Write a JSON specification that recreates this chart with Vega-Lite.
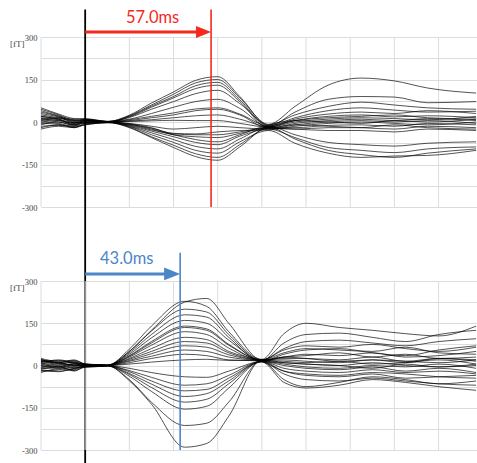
{
"$schema": "https://vega.github.io/schema/vega-lite/v6.json",
"width": 436, "height": 413,
"autosize": {"type": "none"},
"padding": {"left": 41, "top": 37, "right": 0, "bottom": 13},
"background": "white",
"config": {"view": {"stroke": null}},
"datasets": {
"grid": [{"t":-20},{"t":0},{"t":20},{"t":40},{"t":60},{"t":80},{"t":100},{"t":120},{"t":140},{"t":160}],
"top": [
{"c":1,"t":-20,"v":20},{"c":1,"t":-12,"v":10},{"c":1,"t":-5,"v":-10},{"c":1,"t":0,"v":5},{"c":1,"t":10,"v":2},{"c":1,"t":20,"v":24},{"c":1,"t":30,"v":67},{"c":1,"t":40,"v":106},{"c":1,"t":50,"v":147},{"c":1,"t":60,"v":160},{"c":1,"t":70,"v":90},{"c":1,"t":83,"v":-12},{"c":1,"t":95,"v":5},{"c":1,"t":110,"v":15},{"c":1,"t":125,"v":20},{"c":1,"t":140,"v":25},{"c":1,"t":155,"v":15},{"c":1,"t":177,"v":10},
{"c":2,"t":-20,"v":45},{"c":2,"t":-12,"v":25},{"c":2,"t":-5,"v":5},{"c":2,"t":0,"v":8},{"c":2,"t":10,"v":1},{"c":2,"t":20,"v":22},{"c":2,"t":30,"v":60},{"c":2,"t":40,"v":98},{"c":2,"t":50,"v":138},{"c":2,"t":60,"v":150},{"c":2,"t":70,"v":85},{"c":2,"t":83,"v":-8},{"c":2,"t":95,"v":55},{"c":2,"t":110,"v":130},{"c":2,"t":125,"v":155},{"c":2,"t":140,"v":145},{"c":2,"t":155,"v":120},{"c":2,"t":177,"v":102},
{"c":3,"t":-20,"v":35},{"c":3,"t":-12,"v":20},{"c":3,"t":-5,"v":0},{"c":3,"t":0,"v":10},{"c":3,"t":10,"v":0},{"c":3,"t":20,"v":20},{"c":3,"t":30,"v":56},{"c":3,"t":40,"v":90},{"c":3,"t":50,"v":128},{"c":3,"t":60,"v":140},{"c":3,"t":70,"v":78},{"c":3,"t":83,"v":-15},{"c":3,"t":95,"v":35},{"c":3,"t":110,"v":80},{"c":3,"t":125,"v":90},{"c":3,"t":140,"v":88},{"c":3,"t":155,"v":68},{"c":3,"t":177,"v":72},
{"c":4,"t":-20,"v":0},{"c":4,"t":-12,"v":-5},{"c":4,"t":-5,"v":-15},{"c":4,"t":0,"v":2},{"c":4,"t":10,"v":-1},{"c":4,"t":20,"v":18},{"c":4,"t":30,"v":52},{"c":4,"t":40,"v":85},{"c":4,"t":50,"v":118},{"c":4,"t":60,"v":130},{"c":4,"t":70,"v":72},{"c":4,"t":83,"v":-20},{"c":4,"t":95,"v":-10},{"c":4,"t":110,"v":-15},{"c":4,"t":125,"v":-20},{"c":4,"t":140,"v":-25},{"c":4,"t":155,"v":-15},{"c":4,"t":177,"v":-20},
{"c":5,"t":-20,"v":25},{"c":5,"t":-12,"v":15},{"c":5,"t":-5,"v":8},{"c":5,"t":0,"v":5},{"c":5,"t":10,"v":1},{"c":5,"t":20,"v":16},{"c":5,"t":30,"v":45},{"c":5,"t":40,"v":72},{"c":5,"t":50,"v":100},{"c":5,"t":60,"v":112},{"c":5,"t":70,"v":65},{"c":5,"t":83,"v":-10},{"c":5,"t":95,"v":25},{"c":5,"t":110,"v":55},{"c":5,"t":125,"v":70},{"c":5,"t":140,"v":60},{"c":5,"t":155,"v":50},{"c":5,"t":177,"v":45},
{"c":6,"t":-20,"v":-10},{"c":6,"t":-12,"v":0},{"c":6,"t":-5,"v":-12},{"c":6,"t":0,"v":-3},{"c":6,"t":10,"v":2},{"c":6,"t":20,"v":10},{"c":6,"t":30,"v":30},{"c":6,"t":40,"v":52},{"c":6,"t":50,"v":72},{"c":6,"t":60,"v":80},{"c":6,"t":70,"v":48},{"c":6,"t":83,"v":-18},{"c":6,"t":95,"v":10},{"c":6,"t":110,"v":28},{"c":6,"t":125,"v":35},{"c":6,"t":140,"v":30},{"c":6,"t":155,"v":40},{"c":6,"t":177,"v":30},
{"c":7,"t":-20,"v":15},{"c":7,"t":-12,"v":8},{"c":7,"t":-5,"v":-5},{"c":7,"t":0,"v":6},{"c":7,"t":10,"v":0},{"c":7,"t":20,"v":8},{"c":7,"t":30,"v":20},{"c":7,"t":40,"v":32},{"c":7,"t":50,"v":46},{"c":7,"t":60,"v":50},{"c":7,"t":70,"v":28},{"c":7,"t":83,"v":-14},{"c":7,"t":95,"v":15},{"c":7,"t":110,"v":40},{"c":7,"t":125,"v":50},{"c":7,"t":140,"v":42},{"c":7,"t":155,"v":35},{"c":7,"t":177,"v":38},
{"c":8,"t":-20,"v":5},{"c":8,"t":-12,"v":12},{"c":8,"t":-5,"v":2},{"c":8,"t":0,"v":-5},{"c":8,"t":10,"v":-2},{"c":8,"t":20,"v":5},{"c":8,"t":30,"v":15},{"c":8,"t":40,"v":25},{"c":8,"t":50,"v":40},{"c":8,"t":60,"v":45},{"c":8,"t":70,"v":25},{"c":8,"t":83,"v":-22},{"c":8,"t":95,"v":-5},{"c":8,"t":110,"v":5},{"c":8,"t":125,"v":10},{"c":8,"t":140,"v":5},{"c":8,"t":155,"v":12},{"c":8,"t":177,"v":5},
{"c":9,"t":-20,"v":-20},{"c":9,"t":-12,"v":-10},{"c":9,"t":-5,"v":-18},{"c":9,"t":0,"v":-8},{"c":9,"t":10,"v":0},{"c":9,"t":20,"v":3},{"c":9,"t":30,"v":8},{"c":9,"t":40,"v":15},{"c":9,"t":50,"v":22},{"c":9,"t":60,"v":25},{"c":9,"t":70,"v":10},{"c":9,"t":83,"v":-16},{"c":9,"t":95,"v":5},{"c":9,"t":110,"v":20},{"c":9,"t":125,"v":25},{"c":9,"t":140,"v":18},{"c":9,"t":155,"v":22},{"c":9,"t":177,"v":15},
{"c":10,"t":-20,"v":40},{"c":10,"t":-12,"v":22},{"c":10,"t":-5,"v":10},{"c":10,"t":0,"v":12},{"c":10,"t":10,"v":2},{"c":10,"t":20,"v":2},{"c":10,"t":30,"v":4},{"c":10,"t":40,"v":6},{"c":10,"t":50,"v":5},{"c":10,"t":60,"v":5},{"c":10,"t":70,"v":-5},{"c":10,"t":83,"v":-18},{"c":10,"t":95,"v":0},{"c":10,"t":110,"v":10},{"c":10,"t":125,"v":15},{"c":10,"t":140,"v":12},{"c":10,"t":155,"v":8},{"c":10,"t":177,"v":20},
{"c":11,"t":-20,"v":10},{"c":11,"t":-12,"v":5},{"c":11,"t":-5,"v":-8},{"c":11,"t":0,"v":0},{"c":11,"t":10,"v":0},{"c":11,"t":20,"v":-5},{"c":11,"t":30,"v":-15},{"c":11,"t":40,"v":-25},{"c":11,"t":50,"v":-20},{"c":11,"t":60,"v":-15},{"c":11,"t":70,"v":-20},{"c":11,"t":83,"v":-25},{"c":11,"t":95,"v":-10},{"c":11,"t":110,"v":0},{"c":11,"t":125,"v":5},{"c":11,"t":140,"v":0},{"c":11,"t":155,"v":5},{"c":11,"t":177,"v":-5},
{"c":12,"t":-20,"v":-5},{"c":12,"t":-12,"v":-8},{"c":12,"t":-5,"v":-20},{"c":12,"t":0,"v":-5},{"c":12,"t":10,"v":-1},{"c":12,"t":20,"v":-8},{"c":12,"t":30,"v":-22},{"c":12,"t":40,"v":-40},{"c":12,"t":50,"v":-42},{"c":12,"t":60,"v":-35},{"c":12,"t":70,"v":-30},{"c":12,"t":83,"v":-28},{"c":12,"t":95,"v":-15},{"c":12,"t":110,"v":-5},{"c":12,"t":125,"v":0},{"c":12,"t":140,"v":-5},{"c":12,"t":155,"v":-10},{"c":12,"t":177,"v":0},
{"c":13,"t":-20,"v":30},{"c":13,"t":-12,"v":18},{"c":13,"t":-5,"v":5},{"c":13,"t":0,"v":8},{"c":13,"t":10,"v":1},{"c":13,"t":20,"v":-6},{"c":13,"t":30,"v":-20},{"c":13,"t":40,"v":-42},{"c":13,"t":50,"v":-45},{"c":13,"t":60,"v":-45},{"c":13,"t":70,"v":-35},{"c":13,"t":83,"v":-20},{"c":13,"t":95,"v":-20},{"c":13,"t":110,"v":-12},{"c":13,"t":125,"v":-10},{"c":13,"t":140,"v":-15},{"c":13,"t":155,"v":-5},{"c":13,"t":177,"v":-10},
{"c":14,"t":-20,"v":-15},{"c":14,"t":-12,"v":-12},{"c":14,"t":-5,"v":-15},{"c":14,"t":0,"v":-10},{"c":14,"t":10,"v":-2},{"c":14,"t":20,"v":-8},{"c":14,"t":30,"v":-25},{"c":14,"t":40,"v":-45},{"c":14,"t":50,"v":-52},{"c":14,"t":60,"v":-55},{"c":14,"t":70,"v":-40},{"c":14,"t":83,"v":-22},{"c":14,"t":95,"v":-25},{"c":14,"t":110,"v":-30},{"c":14,"t":125,"v":-30},{"c":14,"t":140,"v":-35},{"c":14,"t":155,"v":-25},{"c":14,"t":177,"v":-30},
{"c":15,"t":-20,"v":20},{"c":15,"t":-12,"v":10},{"c":15,"t":-5,"v":-2},{"c":15,"t":0,"v":3},{"c":15,"t":10,"v":0},{"c":15,"t":20,"v":-10},{"c":15,"t":30,"v":-28},{"c":15,"t":40,"v":-45},{"c":15,"t":50,"v":-62},{"c":15,"t":60,"v":-70},{"c":15,"t":70,"v":-45},{"c":15,"t":83,"v":-15},{"c":15,"t":95,"v":-45},{"c":15,"t":110,"v":-72},{"c":15,"t":125,"v":-80},{"c":15,"t":140,"v":-85},{"c":15,"t":155,"v":-75},{"c":15,"t":177,"v":-70},
{"c":16,"t":-20,"v":0},{"c":16,"t":-12,"v":5},{"c":16,"t":-5,"v":-5},{"c":16,"t":0,"v":0},{"c":16,"t":10,"v":1},{"c":16,"t":20,"v":-12},{"c":16,"t":30,"v":-32},{"c":16,"t":40,"v":-52},{"c":16,"t":50,"v":-72},{"c":16,"t":60,"v":-80},{"c":16,"t":70,"v":-50},{"c":16,"t":83,"v":-25},{"c":16,"t":95,"v":-55},{"c":16,"t":110,"v":-90},{"c":16,"t":125,"v":-100},{"c":16,"t":140,"v":-108},{"c":16,"t":155,"v":-95},{"c":16,"t":177,"v":-88},
{"c":17,"t":-20,"v":50},{"c":17,"t":-12,"v":28},{"c":17,"t":-5,"v":12},{"c":17,"t":0,"v":10},{"c":17,"t":10,"v":2},{"c":17,"t":20,"v":-14},{"c":17,"t":30,"v":-38},{"c":17,"t":40,"v":-62},{"c":17,"t":50,"v":-86},{"c":17,"t":60,"v":-95},{"c":17,"t":70,"v":-60},{"c":17,"t":83,"v":-18},{"c":17,"t":95,"v":-60},{"c":17,"t":110,"v":-100},{"c":17,"t":125,"v":-115},{"c":17,"t":140,"v":-125},{"c":17,"t":155,"v":-110},{"c":17,"t":177,"v":-95},
{"c":18,"t":-20,"v":-25},{"c":18,"t":-12,"v":-15},{"c":18,"t":-5,"v":-20},{"c":18,"t":0,"v":-10},{"c":18,"t":10,"v":-3},{"c":18,"t":20,"v":-16},{"c":18,"t":30,"v":-45},{"c":18,"t":40,"v":-72},{"c":18,"t":50,"v":-100},{"c":18,"t":60,"v":-110},{"c":18,"t":70,"v":-70},{"c":18,"t":83,"v":-30},{"c":18,"t":95,"v":-75},{"c":18,"t":110,"v":-110},{"c":18,"t":125,"v":-125},{"c":18,"t":140,"v":-120},{"c":18,"t":155,"v":-118},{"c":18,"t":177,"v":-100},
{"c":19,"t":-20,"v":8},{"c":19,"t":-12,"v":0},{"c":19,"t":-5,"v":-10},{"c":19,"t":0,"v":-2},{"c":19,"t":10,"v":0},{"c":19,"t":20,"v":-18},{"c":19,"t":30,"v":-52},{"c":19,"t":40,"v":-82},{"c":19,"t":50,"v":-112},{"c":19,"t":60,"v":-125},{"c":19,"t":70,"v":-80},{"c":19,"t":83,"v":-22},{"c":19,"t":95,"v":-25},{"c":19,"t":110,"v":-20},{"c":19,"t":125,"v":-20},{"c":19,"t":140,"v":-10},{"c":19,"t":155,"v":-20},{"c":19,"t":177,"v":-25},
{"c":20,"t":-20,"v":12},{"c":20,"t":-12,"v":15},{"c":20,"t":-5,"v":-3},{"c":20,"t":0,"v":6},{"c":20,"t":10,"v":1},{"c":20,"t":20,"v":-20},{"c":20,"t":30,"v":-55},{"c":20,"t":40,"v":-90},{"c":20,"t":50,"v":-122},{"c":20,"t":60,"v":-135},{"c":20,"t":70,"v":-88},{"c":20,"t":83,"v":-12},{"c":20,"t":95,"v":5},{"c":20,"t":110,"v":0},{"c":20,"t":125,"v":-5},{"c":20,"t":140,"v":5},{"c":20,"t":155,"v":0},{"c":20,"t":177,"v":10}
],
"bot": [
{"c":1,"t":-20,"v":15},{"c":1,"t":-12,"v":5},{"c":1,"t":-5,"v":12},{"c":1,"t":0,"v":3},{"c":1,"t":10,"v":1},{"c":1,"t":20,"v":50},{"c":1,"t":30,"v":125},{"c":1,"t":45,"v":225},{"c":1,"t":55,"v":238},{"c":1,"t":65,"v":150},{"c":1,"t":80,"v":20},{"c":1,"t":90,"v":30},{"c":1,"t":100,"v":25},{"c":1,"t":115,"v":15},{"c":1,"t":130,"v":20},{"c":1,"t":145,"v":10},{"c":1,"t":160,"v":25},{"c":1,"t":177,"v":20},
{"c":2,"t":-20,"v":-10},{"c":2,"t":-12,"v":-5},{"c":2,"t":-5,"v":8},{"c":2,"t":0,"v":-2},{"c":2,"t":10,"v":0},{"c":2,"t":20,"v":58},{"c":2,"t":30,"v":140},{"c":2,"t":45,"v":228},{"c":2,"t":55,"v":210},{"c":2,"t":65,"v":120},{"c":2,"t":80,"v":22},{"c":2,"t":90,"v":113},{"c":2,"t":100,"v":150},{"c":2,"t":115,"v":135},{"c":2,"t":130,"v":125},{"c":2,"t":145,"v":113},{"c":2,"t":160,"v":105},{"c":2,"t":177,"v":140},
{"c":3,"t":-20,"v":20},{"c":3,"t":-12,"v":12},{"c":3,"t":-5,"v":15},{"c":3,"t":0,"v":5},{"c":3,"t":10,"v":1},{"c":3,"t":20,"v":50},{"c":3,"t":30,"v":122},{"c":3,"t":45,"v":200},{"c":3,"t":55,"v":190},{"c":3,"t":65,"v":110},{"c":3,"t":80,"v":18},{"c":3,"t":90,"v":80},{"c":3,"t":100,"v":110},{"c":3,"t":115,"v":115},{"c":3,"t":130,"v":100},{"c":3,"t":145,"v":85},{"c":3,"t":160,"v":110},{"c":3,"t":177,"v":125},
{"c":4,"t":-20,"v":0},{"c":4,"t":-12,"v":-10},{"c":4,"t":-5,"v":5},{"c":4,"t":0,"v":-3},{"c":4,"t":10,"v":-1},{"c":4,"t":20,"v":45},{"c":4,"t":30,"v":110},{"c":4,"t":45,"v":180},{"c":4,"t":55,"v":172},{"c":4,"t":65,"v":100},{"c":4,"t":80,"v":15},{"c":4,"t":90,"v":40},{"c":4,"t":100,"v":55},{"c":4,"t":115,"v":60},{"c":4,"t":130,"v":45},{"c":4,"t":145,"v":35},{"c":4,"t":160,"v":55},{"c":4,"t":177,"v":70},
{"c":5,"t":-20,"v":25},{"c":5,"t":-12,"v":15},{"c":5,"t":-5,"v":18},{"c":5,"t":0,"v":6},{"c":5,"t":10,"v":2},{"c":5,"t":20,"v":40},{"c":5,"t":30,"v":98},{"c":5,"t":45,"v":160},{"c":5,"t":55,"v":150},{"c":5,"t":65,"v":90},{"c":5,"t":80,"v":20},{"c":5,"t":90,"v":60},{"c":5,"t":100,"v":85},{"c":5,"t":115,"v":90},{"c":5,"t":130,"v":80},{"c":5,"t":145,"v":70},{"c":5,"t":160,"v":85},{"c":5,"t":177,"v":95},
{"c":6,"t":-20,"v":-20},{"c":6,"t":-12,"v":-15},{"c":6,"t":-5,"v":-5},{"c":6,"t":0,"v":-5},{"c":6,"t":10,"v":-1},{"c":6,"t":20,"v":35},{"c":6,"t":30,"v":85},{"c":6,"t":45,"v":140},{"c":6,"t":55,"v":130},{"c":6,"t":65,"v":75},{"c":6,"t":80,"v":16},{"c":6,"t":90,"v":10},{"c":6,"t":100,"v":5},{"c":6,"t":115,"v":0},{"c":6,"t":130,"v":-10},{"c":6,"t":145,"v":5},{"c":6,"t":160,"v":-5},{"c":6,"t":177,"v":0},
{"c":7,"t":-20,"v":10},{"c":7,"t":-12,"v":20},{"c":7,"t":-5,"v":10},{"c":7,"t":0,"v":4},{"c":7,"t":10,"v":0},{"c":7,"t":20,"v":33},{"c":7,"t":30,"v":80},{"c":7,"t":45,"v":135},{"c":7,"t":55,"v":125},{"c":7,"t":65,"v":72},{"c":7,"t":80,"v":20},{"c":7,"t":90,"v":55},{"c":7,"t":100,"v":70},{"c":7,"t":115,"v":65},{"c":7,"t":130,"v":75},{"c":7,"t":145,"v":60},{"c":7,"t":160,"v":50},{"c":7,"t":177,"v":65},
{"c":8,"t":-20,"v":5},{"c":8,"t":-12,"v":-5},{"c":8,"t":-5,"v":-10},{"c":8,"t":0,"v":0},{"c":8,"t":10,"v":1},{"c":8,"t":20,"v":30},{"c":8,"t":30,"v":72},{"c":8,"t":45,"v":120},{"c":8,"t":55,"v":110},{"c":8,"t":65,"v":62},{"c":8,"t":80,"v":17},{"c":8,"t":90,"v":30},{"c":8,"t":100,"v":35},{"c":8,"t":115,"v":45},{"c":8,"t":130,"v":30},{"c":8,"t":145,"v":40},{"c":8,"t":160,"v":25},{"c":8,"t":177,"v":30},
{"c":9,"t":-20,"v":-15},{"c":9,"t":-12,"v":-20},{"c":9,"t":-5,"v":-12},{"c":9,"t":0,"v":-4},{"c":9,"t":10,"v":-1},{"c":9,"t":20,"v":25},{"c":9,"t":30,"v":60},{"c":9,"t":45,"v":100},{"c":9,"t":55,"v":92},{"c":9,"t":65,"v":50},{"c":9,"t":80,"v":15},{"c":9,"t":90,"v":-20},{"c":9,"t":100,"v":-35},{"c":9,"t":115,"v":-40},{"c":9,"t":130,"v":-30},{"c":9,"t":145,"v":-45},{"c":9,"t":160,"v":-40},{"c":9,"t":177,"v":-35},
{"c":10,"t":-20,"v":22},{"c":10,"t":-12,"v":10},{"c":10,"t":-5,"v":20},{"c":10,"t":0,"v":5},{"c":10,"t":10,"v":1},{"c":10,"t":20,"v":22},{"c":10,"t":30,"v":50},{"c":10,"t":45,"v":85},{"c":10,"t":55,"v":80},{"c":10,"t":65,"v":45},{"c":10,"t":80,"v":20},{"c":10,"t":90,"v":45},{"c":10,"t":100,"v":60},{"c":10,"t":115,"v":55},{"c":10,"t":130,"v":50},{"c":10,"t":145,"v":65},{"c":10,"t":160,"v":45},{"c":10,"t":177,"v":40},
{"c":11,"t":-20,"v":-5},{"c":11,"t":-12,"v":5},{"c":11,"t":-5,"v":-8},{"c":11,"t":0,"v":-2},{"c":11,"t":10,"v":0},{"c":11,"t":20,"v":18},{"c":11,"t":30,"v":42},{"c":11,"t":45,"v":70},{"c":11,"t":55,"v":65},{"c":11,"t":65,"v":38},{"c":11,"t":80,"v":18},{"c":11,"t":90,"v":15},{"c":11,"t":100,"v":10},{"c":11,"t":115,"v":15},{"c":11,"t":130,"v":5},{"c":11,"t":145,"v":10},{"c":11,"t":160,"v":20},{"c":11,"t":177,"v":5},
{"c":12,"t":-20,"v":18},{"c":12,"t":-12,"v":8},{"c":12,"t":-5,"v":2},{"c":12,"t":0,"v":2},{"c":12,"t":10,"v":0},{"c":12,"t":20,"v":15},{"c":12,"t":30,"v":33},{"c":12,"t":45,"v":55},{"c":12,"t":55,"v":50},{"c":12,"t":65,"v":30},{"c":12,"t":80,"v":19},{"c":12,"t":90,"v":25},{"c":12,"t":100,"v":25},{"c":12,"t":115,"v":20},{"c":12,"t":130,"v":30},{"c":12,"t":145,"v":15},{"c":12,"t":160,"v":25},{"c":12,"t":177,"v":15},
{"c":13,"t":-20,"v":-25},{"c":13,"t":-12,"v":-12},{"c":13,"t":-5,"v":-18},{"c":13,"t":0,"v":-6},{"c":13,"t":10,"v":-2},{"c":13,"t":20,"v":10},{"c":13,"t":30,"v":25},{"c":13,"t":45,"v":40},{"c":13,"t":55,"v":35},{"c":13,"t":65,"v":20},{"c":13,"t":80,"v":16},{"c":13,"t":90,"v":0},{"c":13,"t":100,"v":-10},{"c":13,"t":115,"v":-15},{"c":13,"t":130,"v":-5},{"c":13,"t":145,"v":-20},{"c":13,"t":160,"v":-10},{"c":13,"t":177,"v":-25},
{"c":14,"t":-20,"v":8},{"c":14,"t":-12,"v":0},{"c":14,"t":-5,"v":5},{"c":14,"t":0,"v":1},{"c":14,"t":10,"v":0},{"c":14,"t":20,"v":5},{"c":14,"t":30,"v":12},{"c":14,"t":45,"v":20},{"c":14,"t":55,"v":22},{"c":14,"t":65,"v":18},{"c":14,"t":80,"v":18},{"c":14,"t":90,"v":30},{"c":14,"t":100,"v":40},{"c":14,"t":115,"v":35},{"c":14,"t":130,"v":45},{"c":14,"t":145,"v":30},{"c":14,"t":160,"v":35},{"c":14,"t":177,"v":50},
{"c":15,"t":-20,"v":12},{"c":15,"t":-12,"v":18},{"c":15,"t":-5,"v":8},{"c":15,"t":0,"v":4},{"c":15,"t":10,"v":1},{"c":15,"t":20,"v":-10},{"c":15,"t":30,"v":-25},{"c":15,"t":45,"v":-40},{"c":15,"t":55,"v":-42},{"c":15,"t":65,"v":-20},{"c":15,"t":80,"v":14},{"c":15,"t":90,"v":-30},{"c":15,"t":100,"v":-50},{"c":15,"t":115,"v":-55},{"c":15,"t":130,"v":-45},{"c":15,"t":145,"v":-55},{"c":15,"t":160,"v":-65},{"c":15,"t":177,"v":-70},
{"c":16,"t":-20,"v":-12},{"c":16,"t":-12,"v":-8},{"c":16,"t":-5,"v":-15},{"c":16,"t":0,"v":-3},{"c":16,"t":10,"v":-1},{"c":16,"t":20,"v":-18},{"c":16,"t":30,"v":-42},{"c":16,"t":45,"v":-70},{"c":16,"t":55,"v":-65},{"c":16,"t":65,"v":-35},{"c":16,"t":80,"v":15},{"c":16,"t":90,"v":-10},{"c":16,"t":100,"v":-20},{"c":16,"t":115,"v":-25},{"c":16,"t":130,"v":-15},{"c":16,"t":145,"v":-25},{"c":16,"t":160,"v":-20},{"c":16,"t":177,"v":-30},
{"c":17,"t":-20,"v":0},{"c":17,"t":-12,"v":-5},{"c":17,"t":-5,"v":0},{"c":17,"t":0,"v":0},{"c":17,"t":10,"v":0},{"c":17,"t":20,"v":-22},{"c":17,"t":30,"v":-55},{"c":17,"t":45,"v":-90},{"c":17,"t":55,"v":-85},{"c":17,"t":65,"v":-45},{"c":17,"t":80,"v":12},{"c":17,"t":90,"v":-60},{"c":17,"t":100,"v":-80},{"c":17,"t":115,"v":-70},{"c":17,"t":130,"v":-50},{"c":17,"t":145,"v":-60},{"c":17,"t":160,"v":-75},{"c":17,"t":177,"v":-88},
{"c":18,"t":-20,"v":15},{"c":18,"t":-12,"v":8},{"c":18,"t":-5,"v":12},{"c":18,"t":0,"v":3},{"c":18,"t":10,"v":1},{"c":18,"t":20,"v":-28},{"c":18,"t":30,"v":-66},{"c":18,"t":45,"v":-110},{"c":18,"t":55,"v":-100},{"c":18,"t":65,"v":-55},{"c":18,"t":80,"v":16},{"c":18,"t":90,"v":5},{"c":18,"t":100,"v":-5},{"c":18,"t":115,"v":-10},{"c":18,"t":130,"v":0},{"c":18,"t":145,"v":-5},{"c":18,"t":160,"v":5},{"c":18,"t":177,"v":-10},
{"c":19,"t":-20,"v":-18},{"c":19,"t":-12,"v":-22},{"c":19,"t":-5,"v":-10},{"c":19,"t":0,"v":-5},{"c":19,"t":10,"v":-2},{"c":19,"t":20,"v":-32},{"c":19,"t":30,"v":-78},{"c":19,"t":45,"v":-130},{"c":19,"t":55,"v":-120},{"c":19,"t":65,"v":-65},{"c":19,"t":80,"v":14},{"c":19,"t":90,"v":-50},{"c":19,"t":100,"v":-75},{"c":19,"t":115,"v":-60},{"c":19,"t":130,"v":-40},{"c":19,"t":145,"v":-50},{"c":19,"t":160,"v":-65},{"c":19,"t":177,"v":-55},
{"c":20,"t":-20,"v":5},{"c":20,"t":-12,"v":12},{"c":20,"t":-5,"v":-3},{"c":20,"t":0,"v":2},{"c":20,"t":10,"v":0},{"c":20,"t":20,"v":-38},{"c":20,"t":30,"v":-92},{"c":20,"t":45,"v":-155},{"c":20,"t":55,"v":-145},{"c":20,"t":65,"v":-80},{"c":20,"t":80,"v":15},{"c":20,"t":90,"v":-20},{"c":20,"t":100,"v":-30},{"c":20,"t":115,"v":-35},{"c":20,"t":130,"v":-25},{"c":20,"t":145,"v":-30},{"c":20,"t":160,"v":-40},{"c":20,"t":177,"v":-45},
{"c":21,"t":-20,"v":-8},{"c":21,"t":-12,"v":-2},{"c":21,"t":-5,"v":-20},{"c":21,"t":0,"v":-4},{"c":21,"t":10,"v":-1},{"c":21,"t":20,"v":-50},{"c":21,"t":30,"v":-130},{"c":21,"t":45,"v":-213},{"c":21,"t":55,"v":-205},{"c":21,"t":65,"v":-130},{"c":21,"t":80,"v":18},{"c":21,"t":90,"v":20},{"c":21,"t":100,"v":15},{"c":21,"t":115,"v":10},{"c":21,"t":130,"v":20},{"c":21,"t":145,"v":15},{"c":21,"t":160,"v":10},{"c":21,"t":177,"v":20},
{"c":22,"t":-20,"v":20},{"c":22,"t":-12,"v":10},{"c":22,"t":-5,"v":0},{"c":22,"t":0,"v":2},{"c":22,"t":10,"v":0},{"c":22,"t":20,"v":-54},{"c":22,"t":30,"v":-137},{"c":22,"t":45,"v":-290},{"c":22,"t":55,"v":-277},{"c":22,"t":65,"v":-180},{"c":22,"t":80,"v":20},{"c":22,"t":90,"v":10},{"c":22,"t":100,"v":5},{"c":22,"t":115,"v":0},{"c":22,"t":130,"v":10},{"c":22,"t":145,"v":0},{"c":22,"t":160,"v":-5},{"c":22,"t":177,"v":5}
]
},
"layer": [
{
"layer": [
{"data": {"name": "grid"}, "mark": {"type": "rule", "color": "#d9dddd", "strokeWidth": 1},
 "encoding": {"x": {"field": "t", "type": "quantitative", "scale": {"domain": [-20, 177.4], "nice": false, "zero": false}, "axis": null},
  "y": {"datum": 300, "type": "quantitative", "scale": {"domain": [-1157.6, 300], "nice": false, "zero": false},
   "axis": {"orient": "left", "values": [-300, -225, -150, -75, 0, 75, 150, 225, 300], "labelExpr": "datum.value % 150 === 0 ? '' + datum.value : ''", "ticks": false, "domain": false, "grid": true, "gridColor": "#d9dddd", "gridWidth": 1, "labelFont": "Liberation Serif", "labelFontSize": 8.5, "labelColor": "#444444", "labelPadding": 4, "title": "[fT]", "titleAngle": 0, "titleAlign": "right", "titleBaseline": "alphabetic", "titleX": -17, "titleY": 9, "titleFont": "Liberation Serif", "titleFontSize": 9, "titleFontWeight": "normal", "titleColor": "#444444"}},
  "y2": {"datum": -300}}},
{"data": {"name": "top"}, "mark": {"type": "line", "interpolate": "monotone", "color": "#000000", "strokeWidth": 0.75, "opacity": 0.9},
 "encoding": {"x": {"field": "t", "type": "quantitative", "scale": {"domain": [-20, 177.4], "nice": false, "zero": false}, "axis": null},
  "y": {"field": "v", "type": "quantitative", "scale": {"domain": [-1157.6, 300], "nice": false, "zero": false},
   "axis": {"orient": "left", "values": [-300, -225, -150, -75, 0, 75, 150, 225, 300], "labelExpr": "datum.value % 150 === 0 ? '' + datum.value : ''", "ticks": false, "domain": false, "grid": true, "gridColor": "#d9dddd", "gridWidth": 1, "labelFont": "Liberation Serif", "labelFontSize": 8.5, "labelColor": "#444444", "labelPadding": 4, "title": "[fT]", "titleAngle": 0, "titleAlign": "right", "titleBaseline": "alphabetic", "titleX": -17, "titleY": 9, "titleFont": "Liberation Serif", "titleFontSize": 9, "titleFontWeight": "normal", "titleColor": "#444444"}},
  "detail": {"field": "c", "type": "nominal"}}},
{"data": {"values": [{}]}, "mark": {"type": "rule", "color": "#000000", "strokeWidth": 1.8},
 "encoding": {"x": {"datum": 0, "type": "quantitative", "scale": {"domain": [-20, 177.4], "nice": false, "zero": false}, "axis": null},
  "y": {"datum": 397, "type": "quantitative", "scale": {"domain": [-1157.6, 300], "nice": false, "zero": false},
   "axis": {"orient": "left", "values": [-300, -225, -150, -75, 0, 75, 150, 225, 300], "labelExpr": "datum.value % 150 === 0 ? '' + datum.value : ''", "ticks": false, "domain": false, "grid": true, "gridColor": "#d9dddd", "gridWidth": 1, "labelFont": "Liberation Serif", "labelFontSize": 8.5, "labelColor": "#444444", "labelPadding": 4, "title": "[fT]", "titleAngle": 0, "titleAlign": "right", "titleBaseline": "alphabetic", "titleX": -17, "titleY": 9, "titleFont": "Liberation Serif", "titleFontSize": 9, "titleFontWeight": "normal", "titleColor": "#444444"}},
  "y2": {"datum": -1215}}},
{"data": {"values": [{}]}, "mark": {"type": "rule", "color": "#f5281c", "strokeWidth": 1.6},
 "encoding": {"x": {"datum": 57, "type": "quantitative", "scale": {"domain": [-20, 177.4], "nice": false, "zero": false}, "axis": null},
  "y": {"datum": 397, "type": "quantitative", "scale": {"domain": [-1157.6, 300], "nice": false, "zero": false},
   "axis": {"orient": "left", "values": [-300, -225, -150, -75, 0, 75, 150, 225, 300], "labelExpr": "datum.value % 150 === 0 ? '' + datum.value : ''", "ticks": false, "domain": false, "grid": true, "gridColor": "#d9dddd", "gridWidth": 1, "labelFont": "Liberation Serif", "labelFontSize": 8.5, "labelColor": "#444444", "labelPadding": 4, "title": "[fT]", "titleAngle": 0, "titleAlign": "right", "titleBaseline": "alphabetic", "titleX": -17, "titleY": 9, "titleFont": "Liberation Serif", "titleFontSize": 9, "titleFontWeight": "normal", "titleColor": "#444444"}},
  "y2": {"datum": -300}}},
{"data": {"values": [{}]}, "mark": {"type": "rule", "color": "#f5281c", "strokeWidth": 3},
 "encoding": {"x": {"datum": 0, "type": "quantitative", "scale": {"domain": [-20, 177.4], "nice": false, "zero": false}, "axis": null},
  "x2": {"datum": 53},
  "y": {"datum": 317.6, "type": "quantitative", "scale": {"domain": [-1157.6, 300], "nice": false, "zero": false},
   "axis": {"orient": "left", "values": [-300, -225, -150, -75, 0, 75, 150, 225, 300], "labelExpr": "datum.value % 150 === 0 ? '' + datum.value : ''", "ticks": false, "domain": false, "grid": true, "gridColor": "#d9dddd", "gridWidth": 1, "labelFont": "Liberation Serif", "labelFontSize": 8.5, "labelColor": "#444444", "labelPadding": 4, "title": "[fT]", "titleAngle": 0, "titleAlign": "right", "titleBaseline": "alphabetic", "titleX": -17, "titleY": 9, "titleFont": "Liberation Serif", "titleFontSize": 9, "titleFontWeight": "normal", "titleColor": "#444444"}}}},
{"data": {"values": [{}]}, "mark": {"type": "point", "shape": "M-2,-0.8L0,0L-2,0.8Z", "filled": true, "color": "#f5281c", "opacity": 1, "size": 225},
 "encoding": {"x": {"datum": 57, "type": "quantitative", "scale": {"domain": [-20, 177.4], "nice": false, "zero": false}, "axis": null},
  "y": {"datum": 317.6, "type": "quantitative", "scale": {"domain": [-1157.6, 300], "nice": false, "zero": false},
   "axis": {"orient": "left", "values": [-300, -225, -150, -75, 0, 75, 150, 225, 300], "labelExpr": "datum.value % 150 === 0 ? '' + datum.value : ''", "ticks": false, "domain": false, "grid": true, "gridColor": "#d9dddd", "gridWidth": 1, "labelFont": "Liberation Serif", "labelFontSize": 8.5, "labelColor": "#444444", "labelPadding": 4, "title": "[fT]", "titleAngle": 0, "titleAlign": "right", "titleBaseline": "alphabetic", "titleX": -17, "titleY": 9, "titleFont": "Liberation Serif", "titleFontSize": 9, "titleFontWeight": "normal", "titleColor": "#444444"}}}},
{"data": {"values": [{}]}, "mark": {"type": "text", "text": "57.0ms", "color": "#f5281c", "font": "Lato", "fontSize": 16.5, "align": "center", "baseline": "middle"},
 "encoding": {"x": {"datum": 30.5, "type": "quantitative", "scale": {"domain": [-20, 177.4], "nice": false, "zero": false}, "axis": null},
  "y": {"datum": 367, "type": "quantitative", "scale": {"domain": [-1157.6, 300], "nice": false, "zero": false},
   "axis": {"orient": "left", "values": [-300, -225, -150, -75, 0, 75, 150, 225, 300], "labelExpr": "datum.value % 150 === 0 ? '' + datum.value : ''", "ticks": false, "domain": false, "grid": true, "gridColor": "#d9dddd", "gridWidth": 1, "labelFont": "Liberation Serif", "labelFontSize": 8.5, "labelColor": "#444444", "labelPadding": 4, "title": "[fT]", "titleAngle": 0, "titleAlign": "right", "titleBaseline": "alphabetic", "titleX": -17, "titleY": 9, "titleFont": "Liberation Serif", "titleFontSize": 9, "titleFontWeight": "normal", "titleColor": "#444444"}}}}
]
},
{
"layer": [
{"data": {"name": "grid"}, "mark": {"type": "rule", "color": "#d9dddd", "strokeWidth": 1},
 "encoding": {"x": {"field": "t", "type": "quantitative", "scale": {"domain": [-20, 177.4], "nice": false, "zero": false}, "axis": null},
  "y": {"datum": 300, "type": "quantitative", "scale": {"domain": [-300, 1166.3], "nice": false, "zero": false},
   "axis": {"orient": "left", "values": [-300, -225, -150, -75, 0, 75, 150, 225, 300], "labelExpr": "datum.value % 150 === 0 ? '' + datum.value : ''", "ticks": false, "domain": false, "grid": true, "gridColor": "#d9dddd", "gridWidth": 1, "labelFont": "Liberation Serif", "labelFontSize": 8.5, "labelColor": "#444444", "labelPadding": 4, "title": "[fT]", "titleAngle": 0, "titleAlign": "right", "titleBaseline": "alphabetic", "titleX": -17, "titleY": 253, "titleFont": "Liberation Serif", "titleFontSize": 9, "titleFontWeight": "normal", "titleColor": "#444444"}},
  "y2": {"datum": -300}}},
{"data": {"name": "bot"}, "mark": {"type": "line", "interpolate": "monotone", "color": "#000000", "strokeWidth": 0.75, "opacity": 0.9},
 "encoding": {"x": {"field": "t", "type": "quantitative", "scale": {"domain": [-20, 177.4], "nice": false, "zero": false}, "axis": null},
  "y": {"field": "v", "type": "quantitative", "scale": {"domain": [-300, 1166.3], "nice": false, "zero": false},
   "axis": {"orient": "left", "values": [-300, -225, -150, -75, 0, 75, 150, 225, 300], "labelExpr": "datum.value % 150 === 0 ? '' + datum.value : ''", "ticks": false, "domain": false, "grid": true, "gridColor": "#d9dddd", "gridWidth": 1, "labelFont": "Liberation Serif", "labelFontSize": 8.5, "labelColor": "#444444", "labelPadding": 4, "title": "[fT]", "titleAngle": 0, "titleAlign": "right", "titleBaseline": "alphabetic", "titleX": -17, "titleY": 253, "titleFont": "Liberation Serif", "titleFontSize": 9, "titleFontWeight": "normal", "titleColor": "#444444"}},
  "detail": {"field": "c", "type": "nominal"}}},
{"data": {"values": [{}]}, "mark": {"type": "rule", "color": "#4a86c8", "strokeWidth": 1.6},
 "encoding": {"x": {"datum": 43, "type": "quantitative", "scale": {"domain": [-20, 177.4], "nice": false, "zero": false}, "axis": null},
  "y": {"datum": 400, "type": "quantitative", "scale": {"domain": [-300, 1166.3], "nice": false, "zero": false},
   "axis": {"orient": "left", "values": [-300, -225, -150, -75, 0, 75, 150, 225, 300], "labelExpr": "datum.value % 150 === 0 ? '' + datum.value : ''", "ticks": false, "domain": false, "grid": true, "gridColor": "#d9dddd", "gridWidth": 1, "labelFont": "Liberation Serif", "labelFontSize": 8.5, "labelColor": "#444444", "labelPadding": 4, "title": "[fT]", "titleAngle": 0, "titleAlign": "right", "titleBaseline": "alphabetic", "titleX": -17, "titleY": 253, "titleFont": "Liberation Serif", "titleFontSize": 9, "titleFontWeight": "normal", "titleColor": "#444444"}},
  "y2": {"datum": -300}}},
{"data": {"values": [{}]}, "mark": {"type": "rule", "color": "#4a86c8", "strokeWidth": 3},
 "encoding": {"x": {"datum": 0, "type": "quantitative", "scale": {"domain": [-20, 177.4], "nice": false, "zero": false}, "axis": null},
  "x2": {"datum": 38},
  "y": {"datum": 325, "type": "quantitative", "scale": {"domain": [-300, 1166.3], "nice": false, "zero": false},
   "axis": {"orient": "left", "values": [-300, -225, -150, -75, 0, 75, 150, 225, 300], "labelExpr": "datum.value % 150 === 0 ? '' + datum.value : ''", "ticks": false, "domain": false, "grid": true, "gridColor": "#d9dddd", "gridWidth": 1, "labelFont": "Liberation Serif", "labelFontSize": 8.5, "labelColor": "#444444", "labelPadding": 4, "title": "[fT]", "titleAngle": 0, "titleAlign": "right", "titleBaseline": "alphabetic", "titleX": -17, "titleY": 253, "titleFont": "Liberation Serif", "titleFontSize": 9, "titleFontWeight": "normal", "titleColor": "#444444"}}}},
{"data": {"values": [{}]}, "mark": {"type": "point", "shape": "M-2,-0.8L0,0L-2,0.8Z", "filled": true, "color": "#4a86c8", "opacity": 1, "size": 256},
 "encoding": {"x": {"datum": 43, "type": "quantitative", "scale": {"domain": [-20, 177.4], "nice": false, "zero": false}, "axis": null},
  "y": {"datum": 325, "type": "quantitative", "scale": {"domain": [-300, 1166.3], "nice": false, "zero": false},
   "axis": {"orient": "left", "values": [-300, -225, -150, -75, 0, 75, 150, 225, 300], "labelExpr": "datum.value % 150 === 0 ? '' + datum.value : ''", "ticks": false, "domain": false, "grid": true, "gridColor": "#d9dddd", "gridWidth": 1, "labelFont": "Liberation Serif", "labelFontSize": 8.5, "labelColor": "#444444", "labelPadding": 4, "title": "[fT]", "titleAngle": 0, "titleAlign": "right", "titleBaseline": "alphabetic", "titleX": -17, "titleY": 253, "titleFont": "Liberation Serif", "titleFontSize": 9, "titleFontWeight": "normal", "titleColor": "#444444"}}}},
{"data": {"values": [{}]}, "mark": {"type": "text", "text": "43.0ms", "color": "#4a86c8", "font": "Lato", "fontSize": 16.5, "align": "center", "baseline": "middle"},
 "encoding": {"x": {"datum": 18.8, "type": "quantitative", "scale": {"domain": [-20, 177.4], "nice": false, "zero": false}, "axis": null},
  "y": {"datum": 377, "type": "quantitative", "scale": {"domain": [-300, 1166.3], "nice": false, "zero": false},
   "axis": {"orient": "left", "values": [-300, -225, -150, -75, 0, 75, 150, 225, 300], "labelExpr": "datum.value % 150 === 0 ? '' + datum.value : ''", "ticks": false, "domain": false, "grid": true, "gridColor": "#d9dddd", "gridWidth": 1, "labelFont": "Liberation Serif", "labelFontSize": 8.5, "labelColor": "#444444", "labelPadding": 4, "title": "[fT]", "titleAngle": 0, "titleAlign": "right", "titleBaseline": "alphabetic", "titleX": -17, "titleY": 253, "titleFont": "Liberation Serif", "titleFontSize": 9, "titleFontWeight": "normal", "titleColor": "#444444"}}}}
]
}
],
"resolve": {"scale": {"y": "independent"}, "axis": {"y": "independent"}}
}
